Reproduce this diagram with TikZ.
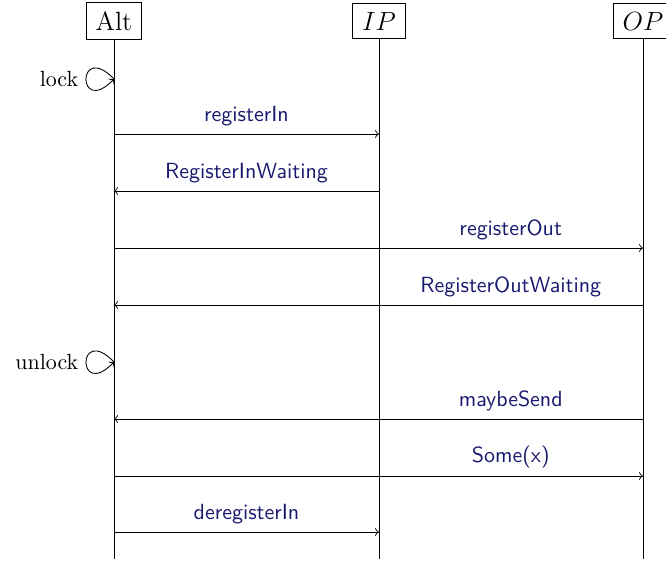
\documentclass[tikz,border=0pt]{standalone}
\usepackage{xcolor}
\usepackage{tikz}
\usetikzlibrary{positioning,calc}
\definecolor{marino}{HTML}{191970}

\begin{document}
\begin{tikzpicture}[x=0.016cm, y=-0.016cm,
  cabecera/.style={draw, fill=white, font=\large, inner xsep=4.3pt, inner ysep=4pt},
  vida/.style={thin},
  flecha/.style={->},
  etiq/.style={font=\sffamily, text=marino, above},
  bucle/.style={->, out=134, in=226, distance=8.6mm}]
  \useasboundingbox (0,0) rectangle (666,563);
  % filas de mensajes
  \foreach \n/\y in {lk1/79, m1/134, m2/191, m3/248, m4/305, lk2/362, m5/419, m6/476, m7/532, fin/559}
    \coordinate (\n) at (0,\y);
  % participantes y lineas de vida
  \node[cabecera] (alt) at (114,21) {Alt};
  \node[cabecera] (ip) at (379,21) {$IP$};
  \node[cabecera] (op) at (643,21) {$OP$};
  \foreach \p in {alt,ip,op}
    \draw[vida] (\p.south) -- (\p |- fin);
  % mensajes
  \draw[bucle] (alt |- lk1) to node[left]{lock} (alt |- lk1);
  \draw[flecha] (alt |- m1) -- node[etiq]{registerIn} (ip |- m1);
  \draw[flecha] (ip |- m2) -- node[etiq]{RegisterInWaiting} (alt |- m2);
  \draw[flecha] (alt |- m3) -- node[etiq, pos=0.75]{registerOut} (op |- m3);
  \draw[flecha] (op |- m4) -- node[etiq, pos=0.25]{RegisterOutWaiting} (alt |- m4);
  \draw[bucle] (alt |- lk2) to node[left]{unlock} (alt |- lk2);
  \draw[flecha] (op |- m5) -- node[etiq, pos=0.25]{maybeSend} (alt |- m5);
  \draw[flecha] (alt |- m6) -- node[etiq, pos=0.75]{Some(x)} (op |- m6);
  \draw[flecha] (alt |- m7) -- node[etiq]{deregisterIn} (ip |- m7);
\end{tikzpicture}
\end{document}
